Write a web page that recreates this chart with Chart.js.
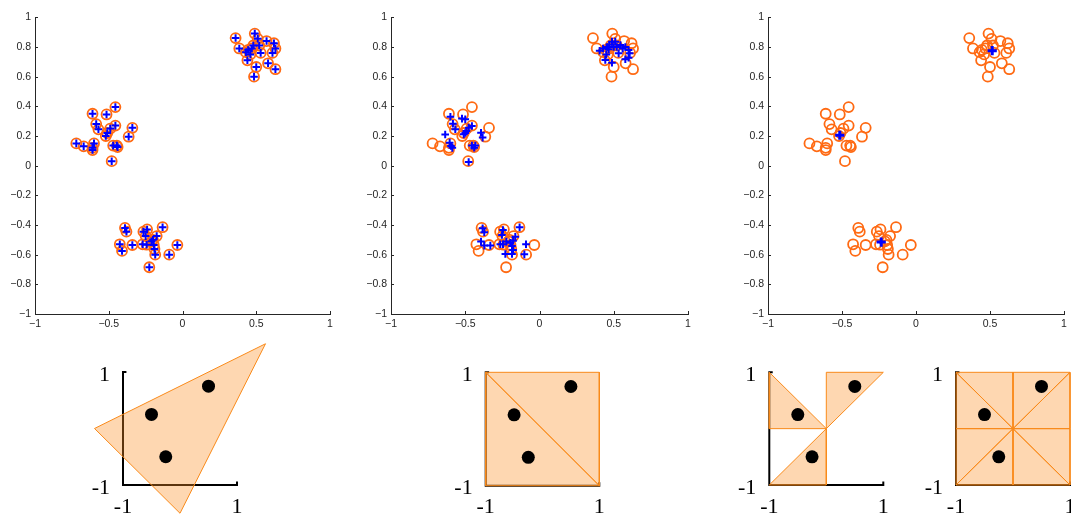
<!DOCTYPE html>
<html>
<head>
<meta charset="utf-8">
<script src="https://cdn.jsdelivr.net/npm/chart.js@4.4.1/dist/chart.umd.min.js"></script>
<style>
  html, body { margin: 0; padding: 0; background: #fff; overflow: hidden; }
  body { width: 1071px; height: 519px; position: relative; }
  canvas { position: absolute; }
</style>
</head>
<body>
<script>
// orange circles: the same data points in all three top panels
const circlesA = [
  [0.36, 0.86], [0.385, 0.79], [0.49, 0.89], [0.51, 0.855], [0.57, 0.84],
  [0.62, 0.825], [0.63, 0.79], [0.61, 0.76], [0.53, 0.76], [0.52, 0.81],
  [0.48, 0.81], [0.445, 0.78], [0.43, 0.765], [0.46, 0.75], [0.44, 0.71],
  [0.5, 0.665], [0.485, 0.60], [0.58, 0.69], [0.63, 0.65], [0.47, 0.79]
];
const circlesB = [
  [-0.72, 0.15], [-0.67, 0.13], [-0.61, 0.12], [-0.60, 0.15], [-0.61, 0.105],
  [-0.61, 0.35], [-0.585, 0.28], [-0.57, 0.245], [-0.515, 0.345], [-0.455, 0.395],
  [-0.455, 0.27], [-0.49, 0.25], [-0.51, 0.22], [-0.52, 0.20], [-0.365, 0.195],
  [-0.34, 0.255], [-0.47, 0.135], [-0.445, 0.135], [-0.44, 0.125], [-0.48, 0.03]
];
const circlesC = [
  [-0.39, -0.42], [-0.38, -0.445], [-0.425, -0.53], [-0.41, -0.575], [-0.34, -0.535],
  [-0.265, -0.445], [-0.24, -0.43], [-0.25, -0.475], [-0.27, -0.53], [-0.243, -0.533],
  [-0.2, -0.5], [-0.175, -0.475], [-0.195, -0.535], [-0.19, -0.562], [-0.185, -0.6],
  [-0.135, -0.415], [-0.09, -0.6], [-0.035, -0.535], [-0.225, -0.685], [-0.21, -0.51]
];

// blue crosses in the middle panel (partly moved towards the centres)
const midA = [
  [0.405, 0.775], [0.428, 0.79], [0.455, 0.80], [0.45, 0.75], [0.443, 0.713],
  [0.488, 0.694], [0.488, 0.836], [0.51, 0.836], [0.545, 0.813], [0.578, 0.80],
  [0.6, 0.78], [0.607, 0.757], [0.533, 0.757], [0.578, 0.717], [0.6, 0.728],
  [0.466, 0.784], [0.5, 0.80], [0.47, 0.815], [0.52, 0.80], [0.56, 0.79]
];
const midB = [
  [-0.635, 0.21], [-0.60, 0.33], [-0.583, 0.282], [-0.567, 0.245], [-0.605, 0.155],
  [-0.596, 0.133], [-0.587, 0.12], [-0.522, 0.317], [-0.5, 0.312], [-0.51, 0.211],
  [-0.492, 0.234], [-0.477, 0.256], [-0.455, 0.267], [-0.394, 0.222], [-0.383, 0.189],
  [-0.455, 0.135], [-0.432, 0.135], [-0.44, 0.121], [-0.477, 0.025], [-0.5, 0.22]
];
const midC = [
  [-0.383, -0.422], [-0.372, -0.449], [-0.394, -0.512], [-0.372, -0.539], [-0.331, -0.539],
  [-0.264, -0.53], [-0.246, -0.434], [-0.253, -0.467], [-0.246, -0.53], [-0.23, -0.596],
  [-0.185, -0.596], [-0.185, -0.542], [-0.178, -0.568], [-0.178, -0.506], [-0.163, -0.479],
  [-0.134, -0.416], [-0.102, -0.598], [-0.091, -0.53], [-0.223, -0.512], [-0.196, -0.52]
];

// final crosses in the right panel
const centers = [[0.515, 0.775], [-0.515, 0.205], [-0.235, -0.515]];

const xTicks = [-1, -0.5, 0, 0.5, 1];
const yTicks = [-1, -0.8, -0.6, -0.4, -0.2, 0, 0.2, 0.4, 0.6, 0.8, 1];

// bottom row
const dots = [[0.5, 0.75], [-0.5, 0.25], [-0.25, -0.5]];
const cornerTicks = [-1, 1];
const axisFrame = [[-0.94, 1], [-1, 1], [-1, -1], [1, -1], [1, -0.94]];
const shapes1 = [
  [[1.5, 1.5], [-1.5, 0], [0, -1.5], [1.5, 1.5]]
];
const shapes2 = [
  [[-1, 1], [1, 1], [1, -1], [-1, 1]],
  [[-1, 1], [-1, -1], [1, -1], [-1, 1]]
];
const shapes3 = [
  [[-1, 1], [-1, 0], [0, 0], [-1, 1]],
  [[0, 1], [1, 1], [0, 0], [0, 1]],
  [[-1, -1], [0, 0], [0, -1], [-1, -1]]
];
const shapes4 = [
  [[-1, 1], [0, 1], [0, 0], [-1, 1]],
  [[0, 1], [1, 1], [0, 0], [0, 1]],
  [[1, 1], [1, 0], [0, 0], [1, 1]],
  [[1, 0], [1, -1], [0, 0], [1, 0]],
  [[1, -1], [0, -1], [0, 0], [1, -1]],
  [[0, -1], [-1, -1], [0, 0], [0, -1]],
  [[-1, -1], [-1, 0], [0, 0], [-1, -1]],
  [[-1, 0], [-1, 1], [0, 0], [-1, 0]]
];

const ORANGE = '#ff6a13';
const BLUE = '#0000ff';
const AXIS = '#262626';
const FILL = 'rgba(252, 145, 40, 0.36)';
const EDGE = '#f98a1a';

const toXY = arr => arr.map(([x, y]) => ({ x, y }));
const fmt = v => String(v).replace('-', '\u2212');

function makeCanvas(left, top, w, h) {
  const c = document.createElement('canvas');
  c.width = w;
  c.height = h;
  c.style.left = left + 'px';
  c.style.top = top + 'px';
  document.body.appendChild(c);
  return c;
}

// matlab style ticks pointing into the plot
const inwardTicks = {
  id: 'inwardTicks',
  afterDraw(chart) {
    const { ctx, chartArea: a, scales: { x, y } } = chart;
    ctx.save();
    ctx.strokeStyle = AXIS;
    ctx.lineWidth = 1;
    ctx.beginPath();
    x.ticks.forEach(t => {
      const px = Math.round(x.getPixelForValue(t.value)) + 0.5;
      ctx.moveTo(px, a.bottom);
      ctx.lineTo(px, a.bottom - 3);
    });
    y.ticks.forEach(t => {
      const py = Math.round(y.getPixelForValue(t.value)) + 0.5;
      ctx.moveTo(a.left, py);
      ctx.lineTo(a.left + 3, py);
    });
    ctx.stroke();
    ctx.restore();
  }
};

function scatterPanel(left, width, crosses, crossRadius, crossWidth) {
  const canvas = makeCanvas(left, 7, width, 325);
  const tickFont = { family: '"Liberation Sans", Arial, sans-serif', size: 10.5 };
  return new Chart(canvas, {
    type: 'scatter',
    data: {
      datasets: [
        {
          data: toXY(crosses),
          pointStyle: 'cross',
          pointRadius: crossRadius,
          borderColor: BLUE,
          borderWidth: crossWidth,
          order: 0
        },
        {
          data: toXY([...circlesA, ...circlesB, ...circlesC]),
          pointStyle: 'circle',
          pointRadius: 5,
          borderColor: ORANGE,
          backgroundColor: 'rgba(0,0,0,0)',
          borderWidth: 1.8,
          order: 1
        }
      ]
    },
    options: {
      responsive: false,
      animation: false,
      events: [],
      layout: { padding: { top: 10, right: 10 }, autoPadding: false },
      plugins: { legend: { display: false }, tooltip: { enabled: false } },
      scales: {
        x: {
          type: 'linear', min: -1, max: 1,
          afterBuildTicks: a => { a.ticks = xTicks.map(v => ({ value: v })); },
          afterFit: s => { s.height = 18; },
          grid: { display: false, drawTicks: false },
          border: { display: true, color: AXIS, width: 1 },
          ticks: { color: AXIS, font: tickFont, padding: 4, maxRotation: 0, callback: fmt }
        },
        y: {
          type: 'linear', min: -1, max: 1,
          afterBuildTicks: a => { a.ticks = yTicks.map(v => ({ value: v })); },
          afterFit: s => { s.width = 33; },
          grid: { display: false, drawTicks: false },
          border: { display: true, color: AXIS, width: 1 },
          ticks: { color: AXIS, font: tickFont, padding: 4, callback: fmt }
        }
      }
    },
    plugins: [inwardTicks]
  });
}

scatterPanel(2, 338, [...circlesA, ...circlesB, ...circlesC], 3.8, 2);
scatterPanel(358, 340, [...midA, ...midB, ...midC], 3.8, 2);
scatterPanel(735, 339, centers, 4.6, 3);

// "1" and "-1" at the ends of the small axes
const cornerLabels = {
  id: 'cornerLabels',
  afterDraw(chart) {
    const { ctx, scales: { x, y } } = chart;
    const x0 = x.getPixelForValue(-1);
    const y0 = y.getPixelForValue(-1);
    ctx.save();
    ctx.fillStyle = '#000';
    ctx.font = '22px "Liberation Serif", "DejaVu Serif", serif';
    ctx.textBaseline = 'middle';
    ctx.textAlign = 'right';
    cornerTicks.forEach(v => ctx.fillText(String(v), x0 - 13, y.getPixelForValue(v) + 3));
    ctx.textAlign = 'center';
    cornerTicks.forEach(v => ctx.fillText(String(v), x.getPixelForValue(v), y0 + 22));
    ctx.restore();
  }
};

// box: canvas position and the pixels where -1 / 1 should land
function bottomPanel(box, shapes) {
  const canvas = makeCanvas(box.left, box.top, box.w, box.h);
  const kx = (box.x1 - box.x0) / 2;
  const ky = (box.y0 - box.y1) / 2;
  const xMin = -1 - (box.x0 - box.left) / kx;
  const xMax = 1 + (box.left + box.w - box.x1) / kx;
  const yMin = -1 - (box.top + box.h - box.y0) / ky;
  const yMax = 1 + (box.y1 - box.top) / ky;

  const shapeSets = shapes.map(s => ({
    data: toXY(s),
    showLine: true,
    fill: 'shape',
    backgroundColor: FILL,
    borderColor: EDGE,
    borderWidth: 1,
    pointRadius: 0,
    tension: 0,
    order: 1
  }));

  return new Chart(canvas, {
    type: 'scatter',
    data: {
      datasets: [
        {
          data: toXY(dots),
          pointStyle: 'circle',
          pointRadius: 6.5,
          backgroundColor: '#000',
          borderWidth: 0,
          order: 0
        },
        ...shapeSets,
        {
          data: toXY(axisFrame),
          showLine: true,
          borderColor: '#000',
          borderWidth: 2,
          pointRadius: 0,
          tension: 0,
          order: 2
        }
      ]
    },
    options: {
      responsive: false,
      animation: false,
      events: [],
      layout: { padding: 0, autoPadding: false },
      plugins: { legend: { display: false }, tooltip: { enabled: false } },
      scales: {
        x: { type: 'linear', display: false, min: xMin, max: xMax },
        y: { type: 'linear', display: false, min: yMin, max: yMax }
      }
    },
    plugins: [cornerLabels]
  });
}

bottomPanel({ left: 40, top: 335, w: 260, h: 184, x0: 123, x1: 237, y1: 372, y0: 485 }, shapes1);
bottomPanel({ left: 410, top: 335, w: 250, h: 184, x0: 485.7, x1: 599.3, y1: 372.3, y0: 485.7 }, shapes2);
bottomPanel({ left: 700, top: 335, w: 200, h: 184, x0: 769.3, x1: 883.3, y1: 372.3, y0: 485 }, shapes3);
bottomPanel({ left: 905, top: 335, w: 166, h: 184, x0: 956, x1: 1070, y1: 372.3, y0: 485 }, shapes4);
</script>
</body>
</html>
